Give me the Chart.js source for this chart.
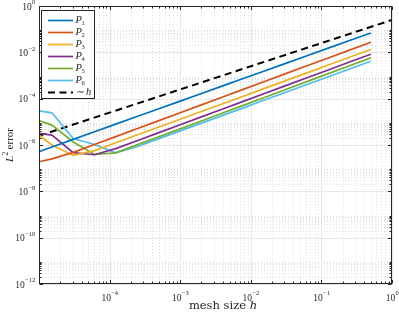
<!DOCTYPE html>
<html>
<head>
<meta charset="utf-8">
<script src="https://cdn.jsdelivr.net/npm/chart.js@4/dist/chart.umd.min.js"></script>
<style>
  html, body { margin: 0; padding: 0; background: #fff; }
</style>
</head>
<body>
<canvas id="myChart" width="399" height="313"></canvas>
<script>
// mesh size h (halved each step)
var meshSize = [0.5, 0.25, 0.125, 0.0625, 0.03125, 0.015625, 0.0078125, 0.00390625,
  0.001953125, 9.765625e-4, 4.8828125e-4, 2.44140625e-4, 1.220703125e-4,
  6.103515625e-5, 3.0517578125e-5, 1.52587890625e-5, 7.62939453125e-6];

// L2 error per polynomial degree
var errP1 = [0.0687, 0.0323, 0.0152, 7.13e-3, 3.35e-3, 1.57e-3, 7.38e-4, 3.47e-4, 1.63e-4, 7.66e-5, 3.60e-5, 1.69e-5, 7.94e-6, 3.73e-6, 1.75e-6, 8.22e-7, 3.86e-7];
var errP2 = [0.0274, 0.0125, 5.73e-3, 2.62e-3, 1.20e-3, 5.48e-4, 2.51e-4, 1.15e-4, 5.25e-5, 2.40e-5, 1.10e-5, 5.02e-6, 2.30e-6, 1.05e-6, 4.82e-7, 2.51e-7, 1.58e-7];
var errP3 = [0.0132, 6.11e-3, 2.82e-3, 1.30e-3, 6.02e-4, 2.78e-4, 1.28e-4, 5.93e-5, 2.74e-5, 1.27e-5, 5.83e-6, 2.69e-6, 1.25e-6, 5.74e-7, 3.55e-7, 1.0e-6, 5.0e-6];
var errP4 = [8.32e-3, 3.80e-3, 1.74e-3, 7.96e-4, 3.65e-4, 1.67e-4, 7.62e-5, 3.49e-5, 1.60e-5, 7.31e-6, 3.34e-6, 1.53e-6, 7.0e-7, 3.8e-7, 4.68e-7, 2.69e-6, 3.55e-6];
var errP5 = [5.77e-3, 2.62e-3, 1.20e-3, 5.44e-4, 2.48e-4, 1.13e-4, 5.14e-5, 2.34e-5, 1.06e-5, 4.85e-6, 2.21e-6, 1.01e-6, 4.58e-7, 3.89e-7, 1.35e-6, 7.24e-6, 1.51e-5];
var errP6 = [4.15e-3, 1.91e-3, 8.85e-4, 4.08e-4, 1.89e-4, 8.71e-5, 4.02e-5, 1.86e-5, 8.57e-6, 3.96e-6, 1.83e-6, 8.43e-7, 4.57e-7, 1.05e-6, 1.91e-6, 2.45e-5, 3.31e-5];

// reference slope ~ h
var refH = [1e-5, 1];
var refErr = [2.5e-6, 0.25];

// tick label exponents (10^e)
var xTickExp = [-4, -3, -2, -1, 0];
var yTickExp = [0, -2, -4, -6, -8, -10, -12];

var seriesSub = ['1', '2', '3', '4', '5', '6'];
var seriesColors = ['#0072BD', '#D95319', '#EDB120', '#7E2F8E', '#77AC30', '#4DBEEE'];
var allErr = [errP1, errP2, errP3, errP4, errP5, errP6];

var axisColor = '#262626';
var serif = '"Liberation Serif", "DejaVu Serif", serif';
var wideSerif = '"DejaVu Serif", serif';

function toPoints(xs, ys) {
  return xs.map(function (x, i) { return { x: x, y: ys[i] }; });
}

var datasets = allErr.map(function (vals, i) {
  return {
    label: 'P' + seriesSub[i],
    data: toPoints(meshSize, vals),
    borderColor: seriesColors[i],
    backgroundColor: seriesColors[i],
    borderWidth: 1.7,
    pointRadius: 0,
    showLine: true,
    fill: false
  };
});
datasets.push({
  label: '~h',
  data: toPoints(refH, refErr),
  borderColor: '#000000',
  backgroundColor: '#000000',
  borderWidth: 2,
  borderDash: [7, 4.5],
  pointRadius: 0,
  showLine: true,
  fill: false
});

// "10" with superscript exponent
function drawPow(ctx, exp, x, y, align) {
  var eTxt = String(exp).replace('-', '\u2212');
  ctx.font = '9.5px ' + serif;
  var w1 = ctx.measureText('10').width;
  ctx.font = '6.5px ' + serif;
  var w2 = ctx.measureText(eTxt).width;
  var left = align === 'right' ? x - w1 - w2 : x - (w1 + w2) / 2;
  ctx.textAlign = 'left';
  ctx.textBaseline = 'middle';
  ctx.font = '9.5px ' + serif;
  ctx.fillText('10', left, y);
  ctx.font = '6.5px ' + serif;
  ctx.fillText(eTxt, left + w1 + 0.3, y - 4.5);
}

// MATLAB look: grid, box, inner ticks, labels, legend
var matlabAxes = {
  id: 'matlabAxes',
  beforeDatasetsDraw: function (chart) {
    var ctx = chart.ctx, a = chart.chartArea;
    var xs = chart.scales.x, ys = chart.scales.y;
    ctx.save();
    ctx.lineWidth = 1;
    // minor grid (dotted)
    ctx.strokeStyle = '#e2e2e2';
    ctx.setLineDash([1, 2]);
    for (var e = -5; e <= -1; e++) {
      for (var k = 2; k <= 9; k++) {
        var px = Math.round(xs.getPixelForValue(k * Math.pow(10, e))) + 0.5;
        ctx.beginPath(); ctx.moveTo(px, a.top); ctx.lineTo(px, a.bottom); ctx.stroke();
      }
    }
    for (var e2 = -12; e2 <= -2; e2 += 2) {
      for (var k2 = 2; k2 <= 9; k2++) {
        var py = Math.round(ys.getPixelForValue(k2 * Math.pow(10, e2))) + 0.5;
        ctx.beginPath(); ctx.moveTo(a.left, py); ctx.lineTo(a.right, py); ctx.stroke();
      }
    }
    // major grid (solid)
    ctx.setLineDash([]);
    ctx.strokeStyle = '#e6e6e6';
    xTickExp.forEach(function (e) {
      var px = Math.round(xs.getPixelForValue(Math.pow(10, e))) + 0.5;
      ctx.beginPath(); ctx.moveTo(px, a.top); ctx.lineTo(px, a.bottom); ctx.stroke();
    });
    yTickExp.forEach(function (e) {
      var py = Math.round(ys.getPixelForValue(Math.pow(10, e))) + 0.5;
      ctx.beginPath(); ctx.moveTo(a.left, py); ctx.lineTo(a.right, py); ctx.stroke();
    });
    ctx.restore();
  },
  afterDatasetsDraw: function (chart) {
    var ctx = chart.ctx, a = chart.chartArea;
    var xs = chart.scales.x, ys = chart.scales.y;
    var L = Math.round(a.left) + 0.5, R = Math.round(a.right) - 0.5;
    var T = Math.round(a.top) + 0.5, B = Math.round(a.bottom) - 0.5;
    ctx.save();
    ctx.strokeStyle = axisColor;
    ctx.fillStyle = axisColor;
    ctx.lineWidth = 1;
    ctx.strokeRect(L, T, R - L, B - T);

    function vTick(px, len) {
      ctx.beginPath();
      ctx.moveTo(px, B); ctx.lineTo(px, B - len);
      ctx.moveTo(px, T); ctx.lineTo(px, T + len);
      ctx.stroke();
    }
    function hTick(py, len) {
      ctx.beginPath();
      ctx.moveTo(L, py); ctx.lineTo(L + len, py);
      ctx.moveTo(R, py); ctx.lineTo(R - len, py);
      ctx.stroke();
    }
    for (var e = -5; e <= -1; e++) {
      for (var k = 2; k <= 9; k++) {
        vTick(Math.round(xs.getPixelForValue(k * Math.pow(10, e))) + 0.5, 2);
      }
    }
    xTickExp.forEach(function (e) { vTick(Math.round(xs.getPixelForValue(Math.pow(10, e))) + 0.5, 3.5); });
    for (var e2 = -12; e2 <= -2; e2 += 2) {
      for (var k2 = 2; k2 <= 9; k2++) {
        hTick(Math.round(ys.getPixelForValue(k2 * Math.pow(10, e2))) + 0.5, 2);
      }
    }
    yTickExp.forEach(function (e) { hTick(Math.round(ys.getPixelForValue(Math.pow(10, e))) + 0.5, 3.5); });

    // tick labels
    xTickExp.forEach(function (e) { drawPow(ctx, e, xs.getPixelForValue(Math.pow(10, e)), a.bottom + 14, 'center'); });
    yTickExp.forEach(function (e) { drawPow(ctx, e, a.left - 4, ys.getPixelForValue(Math.pow(10, e)) + 1, 'right'); });

    // x axis title
    ctx.textBaseline = 'alphabetic';
    ctx.textAlign = 'left';
    ctx.font = '11.5px ' + wideSerif;
    var t1 = 'mesh size ';
    var w1 = ctx.measureText(t1).width;
    ctx.font = 'italic 11.5px ' + wideSerif;
    var w2 = ctx.measureText('h').width;
    var cx = 223, by = 309;
    ctx.font = '11.5px ' + wideSerif;
    ctx.fillText(t1, cx - (w1 + w2) / 2, by);
    ctx.font = 'italic 11.5px ' + wideSerif;
    ctx.fillText('h', cx - (w1 + w2) / 2 + w1, by);

    // y axis title
    ctx.save();
    ctx.translate(13, (a.top + a.bottom) / 2);
    ctx.rotate(-Math.PI / 2);
    ctx.font = 'italic 11px ' + serif;
    var wL = ctx.measureText('L').width;
    ctx.font = '7.5px ' + serif;
    var wS = ctx.measureText('2').width;
    ctx.font = '11px ' + serif;
    var wE = ctx.measureText(' error').width;
    var sx = -(wL + wS + wE) / 2;
    ctx.font = 'italic 11px ' + serif;
    ctx.fillText('L', sx, 0);
    ctx.font = '7.5px ' + serif;
    ctx.fillText('2', sx + wL + 0.5, -5);
    ctx.font = '11px ' + serif;
    ctx.fillText(' error', sx + wL + wS, 0);
    ctx.restore();

    // legend box
    var lx = 41.5, ly = 10.5, lw = 53, lh = 88;
    ctx.fillStyle = '#ffffff';
    ctx.fillRect(lx, ly, lw, lh);
    ctx.strokeStyle = axisColor;
    ctx.strokeRect(lx, ly, lw, lh);
    chart.data.datasets.forEach(function (ds, i) {
      var ry = 20.5 + i * 12;
      ctx.strokeStyle = ds.borderColor;
      ctx.lineWidth = ds.borderWidth;
      ctx.setLineDash(ds.borderDash || []);
      ctx.beginPath(); ctx.moveTo(48, ry); ctx.lineTo(73, ry); ctx.stroke();
      ctx.setLineDash([]);
      ctx.fillStyle = axisColor;
      ctx.textBaseline = 'middle';
      if (i < seriesSub.length) {
        ctx.font = 'italic 10.5px ' + serif;
        ctx.fillText('P', 75.5, ry);
        var wp = ctx.measureText('P').width;
        ctx.font = '6.5px ' + serif;
        ctx.fillText(seriesSub[i], 75.5 + wp - 0.5, ry + 3);
      } else {
        ctx.font = '10.5px ' + serif;
        ctx.fillText('\u223C', 76, ry);
        ctx.font = 'italic 10.5px ' + serif;
        ctx.fillText('h', 86, ry);
      }
    });
    ctx.restore();
  }
};

var chart = new Chart(document.getElementById('myChart'), {
  type: 'scatter',
  data: { datasets: datasets },
  options: {
    responsive: false,
    animation: false,
    devicePixelRatio: 1,
    layout: { padding: { left: 39, right: 7, top: 6, bottom: 29 } },
    scales: {
      x: { type: 'logarithmic', min: 1e-5, max: 1, display: false },
      y: { type: 'logarithmic', min: 1e-12, max: 1, display: false }
    },
    plugins: {
      legend: { display: false },
      tooltip: { enabled: false }
    }
  },
  plugins: [matlabAxes]
});
</script>
</body>
</html>
